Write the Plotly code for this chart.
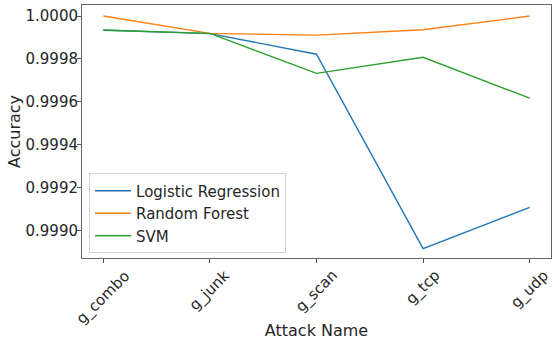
import plotly.graph_objects as go

attacks = ["g_combo", "g_junk", "g_scan", "g_tcp", "g_udp"]
logistic_regression = [0.999935, 0.999918, 0.999822, 0.998916, 0.999108]
random_forest = [1.000000, 0.999919, 0.999911, 0.999936, 1.000000]
svm = [0.999934, 0.999919, 0.999733, 0.999808, 0.999617]

y_ticks = [0.9990, 0.9992, 0.9994, 0.9996, 0.9998, 1.0000]

series = [
    ("Logistic Regression", logistic_regression, "#1f77b4"),
    ("Random Forest", random_forest, "#ff7f0e"),
    ("SVM", svm, "#2ca02c"),
]

font_family = "DejaVu Sans"
text_color = "#262626"
tick_size = 15
title_size = 16

fig = go.Figure()
for name, values, color in series:
    fig.add_trace(go.Scatter(
        x=list(range(len(attacks))), y=values, name=name, mode="lines",
        line=dict(color=color, width=1.4),
    ))

# rotated category labels centred under each tick
for i, label in enumerate(attacks):
    fig.add_annotation(
        x=i, y=0, xref="x", yref="paper", text=label, showarrow=False,
        textangle=-45, xanchor="center", yanchor="top", yshift=-7,
        borderpad=0,
        font=dict(family=font_family, size=tick_size, color=text_color),
    )

fig.update_layout(
    width=553, height=341,
    margin=dict(l=82, r=2, t=5, b=83),
    paper_bgcolor="white", plot_bgcolor="white",
    font=dict(family=font_family, color=text_color),
    showlegend=True,
    legend=dict(
        x=0.015, y=0.018, xanchor="left", yanchor="bottom",
        bgcolor="rgba(255,255,255,0.8)", bordercolor="#d0d0d0", borderwidth=1,
        font=dict(family=font_family, size=tick_size, color=text_color),
        tracegroupgap=0, itemwidth=36,
    ),
)

fig.update_xaxes(
    range=[-0.2, 4.2], tickvals=list(range(len(attacks))), showticklabels=False,
    ticks="outside", ticklen=4, tickcolor="#555", showgrid=False, zeroline=False,
    showline=True, linecolor="#666", linewidth=1, mirror=True,
    title=dict(text="Attack Name", standoff=62,
               font=dict(family=font_family, size=title_size, color=text_color)),
)
fig.update_yaxes(
    range=[0.9988720, 1.0000515], tickvals=y_ticks,
    ticktext=[f"{v:.4f}" for v in y_ticks],
    tickfont=dict(family=font_family, size=tick_size, color=text_color),
    ticks="outside", ticklen=4, ticklabelstandoff=-4, tickcolor="#555",
    showgrid=False, zeroline=False,
    showline=True, linecolor="#666", linewidth=1, mirror=True,
    title=dict(text="Accuracy", standoff=0,
               font=dict(family=font_family, size=title_size, color=text_color)),
)

fig.write_html("out.html")
